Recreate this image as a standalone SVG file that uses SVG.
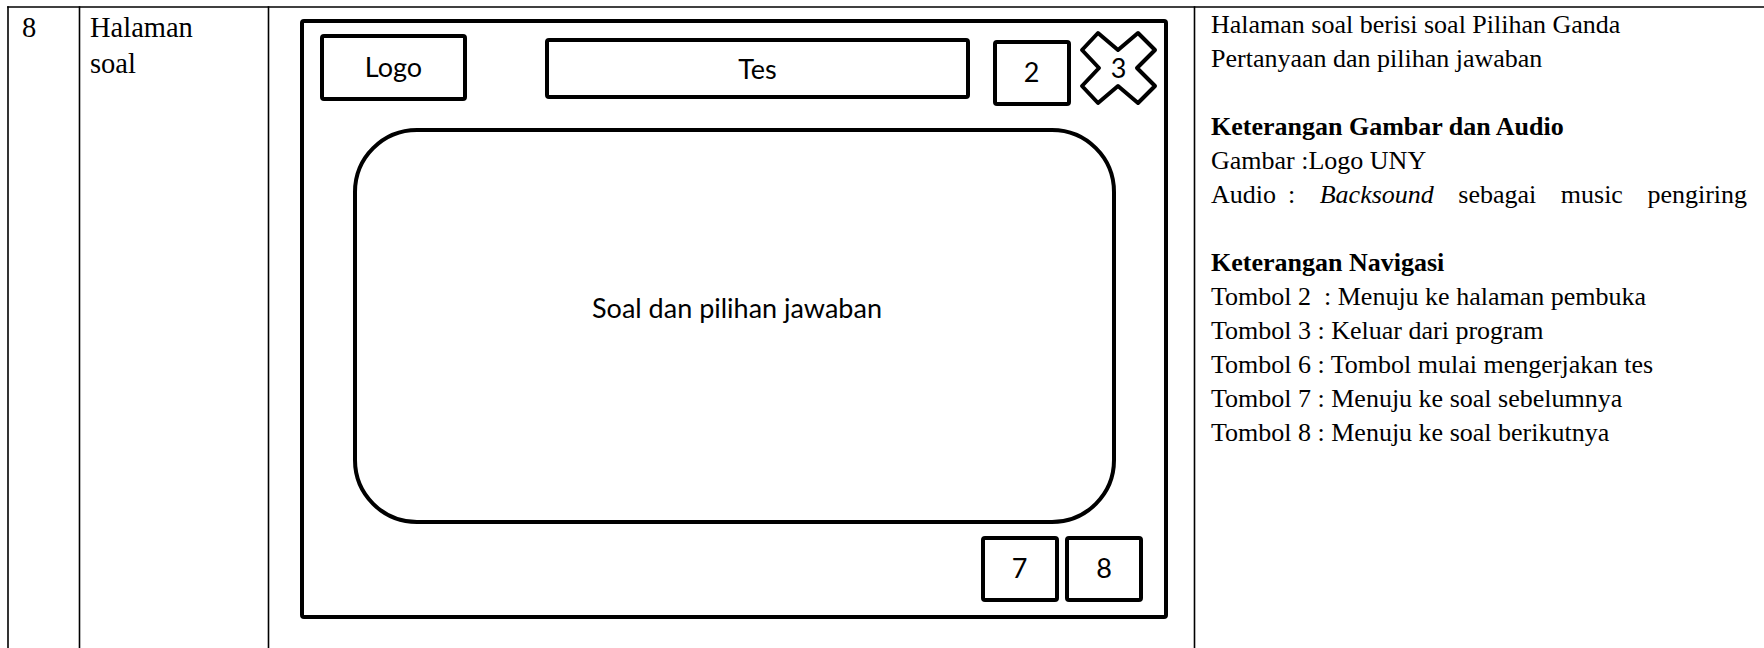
<svg xmlns="http://www.w3.org/2000/svg" width="1764" height="648" viewBox="0 0 1764 648">
<style>
.grid{stroke:#000;stroke-width:1.6;fill:none}
.wf{stroke:#000;stroke-width:4;fill:#fff;stroke-linejoin:round}
.serif{font-family:"Liberation Serif","Times New Roman",serif;fill:#000}
.tl{font-size:28.5px}
.tr{font-size:26px}
.b{font-weight:bold}
.i{font-style:italic}
.sans{font-family:Lato,"Open Sans",sans-serif;font-size:27px;fill:#000;text-anchor:middle}
</style>
<rect x="0" y="0" width="1764" height="648" fill="#fff"/>
<g id="table">
<line class="grid" x1="7.2" y1="7" x2="1764" y2="7"/>
<line class="grid" x1="8" y1="6.2" x2="8" y2="648"/>
<line class="grid" x1="79.5" y1="6.2" x2="79.5" y2="648"/>
<line class="grid" x1="268.5" y1="6.2" x2="268.5" y2="648"/>
<line class="grid" x1="1194.5" y1="6.2" x2="1194.5" y2="648"/>
</g>
<g id="cell-no"><text class="serif tl" x="22" y="36.5">8</text></g>
<g id="cell-name"><text class="serif tl" x="90" y="36.5">Halaman</text><text class="serif tl" x="90" y="73">soal</text></g>
<g id="screen">
<rect class="wf" x="302" y="21" width="864" height="596" rx="2"/>
</g>
<g id="logo"><rect class="wf" x="322" y="36" width="143" height="63" rx="2"/><text class="sans" x="393.5" y="77">Logo</text></g>
<g id="tes"><rect class="wf" x="547" y="40" width="421" height="57" rx="2"/><text class="sans" x="757.5" y="79">Tes</text></g>
<g id="btn2"><rect class="wf" x="995" y="42" width="74" height="62" rx="2"/><text class="sans" x="1031.5" y="81.5">2</text></g>
<g id="btn3"><polygon class="wf" points="1118,50 1138,33 1155,50 1137,68 1155,86 1138,103 1118,86 1098,103 1082,86 1099,68 1082,50 1098,33"/><text class="sans" x="1118.5" y="78">3</text></g>
<g id="content"><rect class="wf" x="355" y="130" width="759" height="392" rx="62" ry="62"/><text class="sans" x="737" y="318">Soal dan pilihan jawaban</text></g>
<g id="btn7"><rect class="wf" x="983" y="538" width="74" height="62" rx="2"/><text class="sans" x="1019.5" y="578">7</text></g>
<g id="btn8"><rect class="wf" x="1067" y="538" width="74" height="62" rx="2"/><text class="sans" x="1104" y="578">8</text></g>
<g id="connectors"/>
<g id="description" class="serif tr">
<text x="1211" y="33">Halaman soal berisi soal Pilihan Ganda</text>
<text x="1211" y="67">Pertanyaan dan pilihan jawaban</text>
<text x="1211" y="135" class="b">Keterangan Gambar dan Audio</text>
<text x="1211" y="169">Gambar :Logo UNY</text>
<text x="1211" y="203">Audio<tspan x="1288" word-spacing="18">: <tspan class="i">Backsound</tspan> sebagai music pengiring</tspan></text>
<text x="1211" y="271" class="b">Keterangan Navigasi</text>
<text x="1211" y="305" xml:space="preserve">Tombol 2  : Menuju ke halaman pembuka</text>
<text x="1211" y="339">Tombol 3 : Keluar dari program</text>
<text x="1211" y="373">Tombol 6 : Tombol mulai mengerjakan tes</text>
<text x="1211" y="407">Tombol 7 : Menuju ke soal sebelumnya</text>
<text x="1211" y="441">Tombol 8 : Menuju ke soal berikutnya</text>
</g>
</svg>
